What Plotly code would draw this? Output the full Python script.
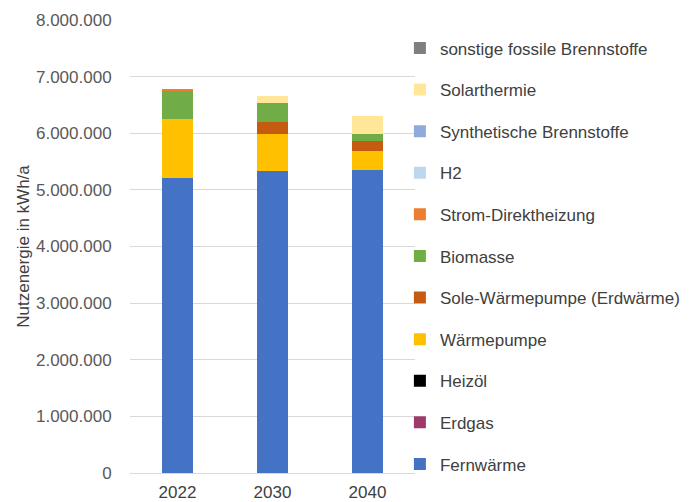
import plotly.graph_objects as go

# Years shown on the x axis
years = ["2022", "2030", "2040"]

# Useful energy per heat source in kWh/a (stacked bottom to top)
fernwaerme = [5210000, 5326000, 5349000]
erdgas = [0, 0, 0]
heizoel = [0, 0, 0]
waermepumpe = [1040000, 660000, 331000]
sole_waermepumpe = [0, 218000, 187000]
biomasse = [500000, 336000, 119000]
strom_direkt = [30000, 0, 0]
h2 = [0, 0, 0]
synthetisch = [0, 0, 0]
solarthermie = [0, 120000, 318000]
sonstige_fossil = [0, 0, 0]

y_ticks = [0, 1000000, 2000000, 3000000, 4000000, 5000000, 6000000, 7000000, 8000000]

series = [
    ("Fernwärme", fernwaerme, "#4472C4"),
    ("Erdgas", erdgas, "#9E3A68"),
    ("Heizöl", heizoel, "#000000"),
    ("Wärmepumpe", waermepumpe, "#FFC000"),
    ("Sole-Wärmepumpe (Erdwärme)", sole_waermepumpe, "#C55A11"),
    ("Biomasse", biomasse, "#70AD47"),
    ("Strom-Direktheizung", strom_direkt, "#ED7D31"),
    ("H2", h2, "#BDD7EE"),
    ("Synthetische Brennstoffe", synthetisch, "#8FAADC"),
    ("Solarthermie", solarthermie, "#FFE699"),
    ("sonstige fossile Brennstoffe", sonstige_fossil, "#7F7F7F"),
]

fig = go.Figure()
n = len(series)
for i, (name, values, color) in enumerate(series):
    fig.add_trace(go.Bar(
        x=years, y=values, name=name, legendgroup=name,
        legendrank=(n - i) * 10,  # top of the stack listed first
        marker=dict(color=color, line=dict(width=0)),
        width=0.32,
    ))

font_family = "Liberation Sans, Arial, sans-serif"

fig.update_layout(
    barmode="stack",
    width=700, height=502,
    margin=dict(l=130, r=285, t=20, b=29, autoexpand=False),
    paper_bgcolor="white", plot_bgcolor="white",
    separators=",.",
    font=dict(family=font_family, size=17, color="#595959"),
    showlegend=True,
    legend=dict(
        traceorder="grouped",
        tracegroupgap=16.5,
        x=0.947, xanchor="left",
        y=0.977, yanchor="top",
        bgcolor="rgba(0,0,0,0)",
        font=dict(family=font_family, size=17, color="#404040"),
    ),
    xaxis=dict(
        showgrid=False, showline=False, zeroline=False,
        ticks="outside", ticklen=4, tickcolor="rgba(0,0,0,0)",
        tickfont=dict(size=17, color="#404040"),
    ),
    yaxis=dict(
        range=[0, 8000000],
        tickvals=y_ticks, tickformat=",d",
        showgrid=True, gridcolor="#D9D9D9", gridwidth=1,
        zeroline=True, zerolinecolor="#D9D9D9", zerolinewidth=1,
        showline=False,
        ticks="outside", ticklen=14, tickcolor="rgba(0,0,0,0)",
        tickfont=dict(size=17, color="#595959"),
        title=dict(text="Nutzenergie in kWh/a", font=dict(size=17, color="#404040"), standoff=2),
    ),
)

fig.write_html("out.html")
